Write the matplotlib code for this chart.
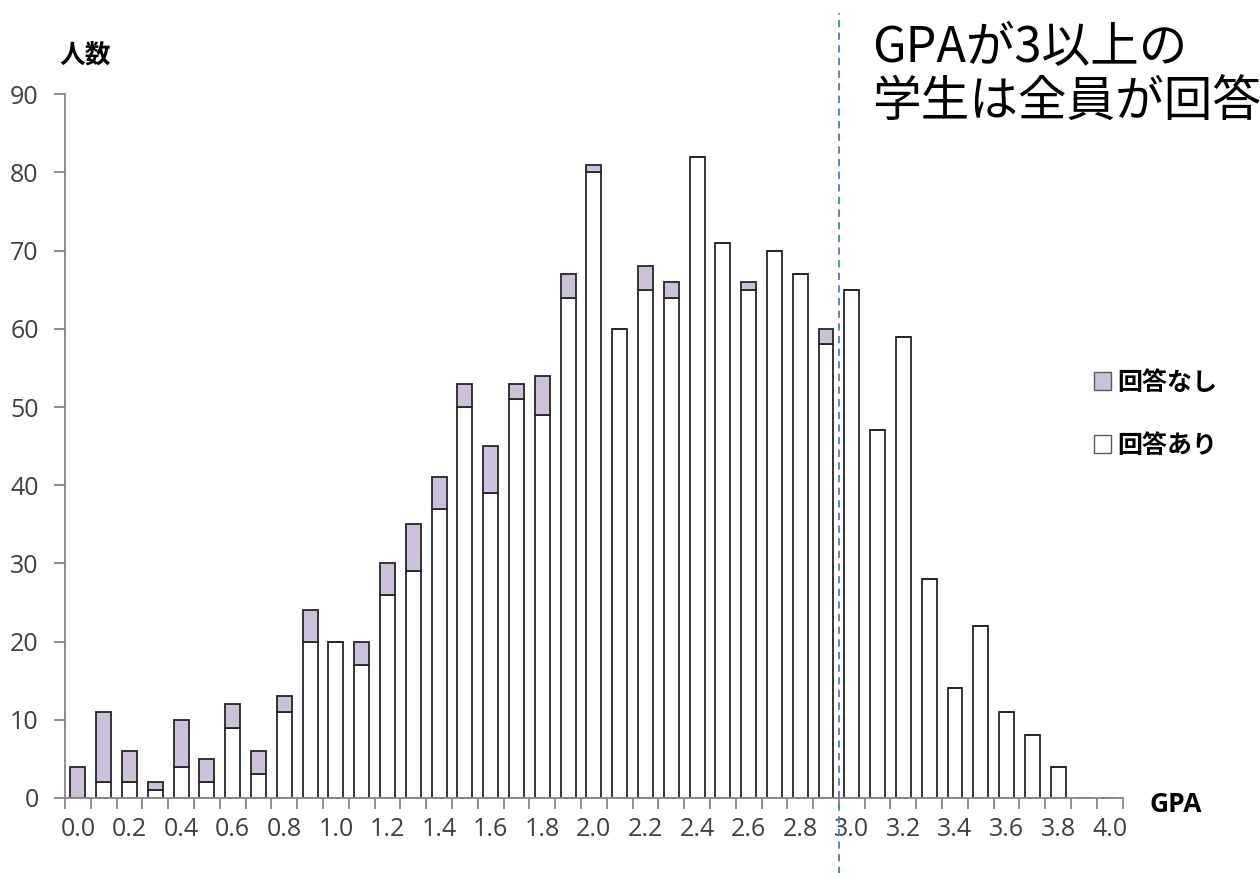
import matplotlib
matplotlib.use("Agg")
import matplotlib.pyplot as plt
import matplotlib.patches as mpatches
import matplotlib.transforms as mtransforms

plt.rcParams['font.family'] = ['Noto Sans CJK JP', 'DejaVu Sans']

# GPA bins 0.0 .. 4.0
gpa_labels = [f"{i / 10:.1f}" for i in range(41)]
answered = [0, 2, 2, 1, 4, 2, 9, 3, 11, 20,
            20, 17, 26, 29, 37, 50, 39, 51, 49, 64,
            80, 60, 65, 64, 82, 71, 65, 70, 67, 58,
            65, 47, 59, 28, 14, 22, 11, 8, 4, 0, 0]
no_answer = [4, 9, 4, 1, 6, 3, 3, 3, 2, 4,
             0, 3, 4, 6, 4, 3, 6, 2, 5, 3,
             1, 0, 3, 2, 0, 0, 1, 0, 0, 2,
             0, 0, 0, 0, 0, 0, 0, 0, 0, 0, 0]

fig = plt.figure(figsize=(12.6, 8.73), dpi=100)
ax = fig.add_axes([0.0516, 0.086, 0.8394, 0.806])

x = list(range(len(gpa_labels)))
purple = "#ccc0da"
edge = "#262626"
ax.bar(x, answered, width=0.58, color="white", edgecolor=edge, linewidth=1.3)
ax.bar(x, no_answer, bottom=answered, width=0.58, color=purple,
       edgecolor=edge, linewidth=1.3)

ax.set_xlim(-0.5, 40.5)
ax.set_ylim(0, 90)
ax.set_yticks(range(0, 91, 10))
ax.set_xticks(x[::2])
ax.set_xticklabels(gpa_labels[::2])
ax.set_xticks([i - 0.5 for i in range(42)], minor=True)

for s in ["top", "right"]:
    ax.spines[s].set_visible(False)
for s in ["left", "bottom"]:
    ax.spines[s].set_color("#868686")
    ax.spines[s].set_linewidth(1.3)

ax.tick_params(axis="x", which="major", length=0, pad=14,
               labelsize=18, labelcolor="#404040")
ax.tick_params(axis="x", which="minor", length=8, width=1.3, color="#868686")
ax.tick_params(axis="y", length=8, width=1.3, color="#868686",
               labelsize=18, labelcolor="#404040", pad=11)
for lbl in ax.get_xticklabels() + ax.get_yticklabels():
    lbl.set_fontfamily("Open Sans")

# dashed divider at GPA 3.0
trans = mtransforms.blended_transform_factory(ax.transData, ax.transAxes)
ax.plot([29.5, 29.5], [-0.11, 1.115], transform=trans, clip_on=False,
        color="#4a7ebb", linestyle=(0, (4, 3)), linewidth=1.3)

fig.text(0.047, 0.936, "人数", fontsize=18.5, fontweight="bold", ha="left", va="center")
fig.text(0.912, 0.078, "GPA", fontsize=19, fontweight="bold", ha="left",
         va="center", fontfamily="Open Sans")
fig.text(0.692, 0.914, "GPAが3以上の\n学生は全員が回答", fontsize=35,
         ha="left", va="center", linespacing=1.12)

handles = [mpatches.Patch(facecolor=purple, edgecolor="#595959", label="回答なし"),
           mpatches.Patch(facecolor="white", edgecolor="#595959", label="回答あり")]
fig.legend(handles=handles, loc="upper left", bbox_to_anchor=(0.85, 0.601),
           frameon=False, prop={"size": 18, "weight": "bold"},
           handlelength=0.7, handleheight=0.7, handletextpad=0.25,
           labelspacing=1.55)

fig.savefig("out.png", dpi=100)
